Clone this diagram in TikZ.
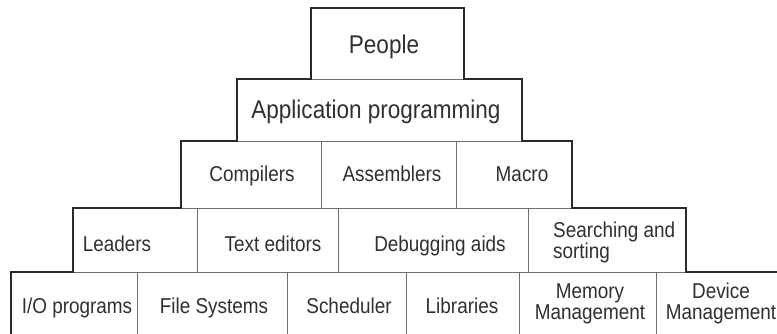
\documentclass[tikz,border=0pt]{standalone}
\usepackage{fontspec}
\setmainfont{Liberation Sans}[FakeStretch=0.88]
\definecolor{edgecol}{HTML}{2A2A2A}
\definecolor{gridcol}{HTML}{6E6E6E}
\definecolor{inkcol}{HTML}{303030}
% one box of the layer diagram, given by its corners (x1,y1) and (x2,y2)
\newcommand\pyrcell[5]{%
  \node[cellbox, minimum width={#4-#2}, minimum height={#5-#3}] (#1) at (#2,#3) {};}
\begin{document}
\begin{tikzpicture}[x=1pt, y=-1pt,
  cellbox/.style={draw=gridcol, line width=0.8pt, rectangle, inner sep=0pt,
                  outer sep=0pt, anchor=north west},
  lbl/.style={text=inkcol, inner sep=0pt, anchor=base, align=center,
              font=\fontsize{21.5}{20.5}\selectfont},
  biglbl/.style={lbl, font=\fontsize{25.6}{25}\selectfont},
  outline/.style={draw=edgecol, line width=1.8pt, line join=miter}]
\useasboundingbox (0,0) rectangle (777,333);
\clip (0,0) rectangle (777,333);
\fill[white] (0,0) rectangle (777,333);

% boxes, top layer to bottom layer
\pyrcell{people}{311}{8}{464}{79}
\pyrcell{app}{237}{79}{522}{141}
\pyrcell{comp}{181}{141}{321}{208}
\pyrcell{asm}{321}{141}{456}{208}
\pyrcell{macro}{456}{141}{572}{208}
\pyrcell{lead}{73}{208}{197}{272}
\pyrcell{edit}{197}{208}{338}{272}
\pyrcell{debug}{338}{208}{528}{272}
\pyrcell{search}{528}{208}{686}{272}
\pyrcell{io}{11}{272}{137}{345}
\pyrcell{fs}{137}{272}{287}{345}
\pyrcell{sched}{287}{272}{406}{345}
\pyrcell{lib}{406}{272}{519}{345}
\pyrcell{mem}{519}{272}{656}{345}
\pyrcell{dev}{656}{272}{790}{345}

% stepped outer border
\draw[outline] (io.south west) -- (io.north west) -- (lead.south west)
  -- (lead.north west) -- (comp.south west) -- (comp.north west)
  -- (app.south west) -- (app.north west) -- (people.south west)
  -- (people.north west) -- (people.north east) -- (people.south east)
  -- (app.north east) -- (app.south east) -- (macro.north east)
  -- (macro.south east) -- (search.north east) -- (search.south east)
  -- (dev.north east);

% labels (two-line labels sit on the baseline of their last line)
\node[biglbl] (t-people) at (384,53) {People};
\node[biglbl] (t-app) at (376,118) {Application programming};

\node[lbl] (t-comp) at (252,181) {Compilers};
\node[lbl] (t-asm) at (392,181) {Assemblers};
\node[lbl] (t-macro) at (522,181) {Macro};

\node[lbl] (t-lead) at (117,251) {Leaders};
\node[lbl] (t-edit) at (273,251) {Text editors};
\node[lbl] (t-debug) at (440,251) {Debugging aids};
\node[lbl, anchor=base west, align=left] (t-search) at (553,258) {Searching and\\sorting};

\node[lbl] (t-io) at (77,313) {I/O programs};
\node[lbl] (t-fs) at (214,313) {File Systems};
\node[lbl] (t-sched) at (349,313) {Scheduler};
\node[lbl] (t-lib) at (462,313) {Libraries};
\node[lbl] (t-mem) at (590,319) {Memory\\Management};
\node[lbl] (t-dev) at (721,319) {Device\\Management};
\end{tikzpicture}
\end{document}
